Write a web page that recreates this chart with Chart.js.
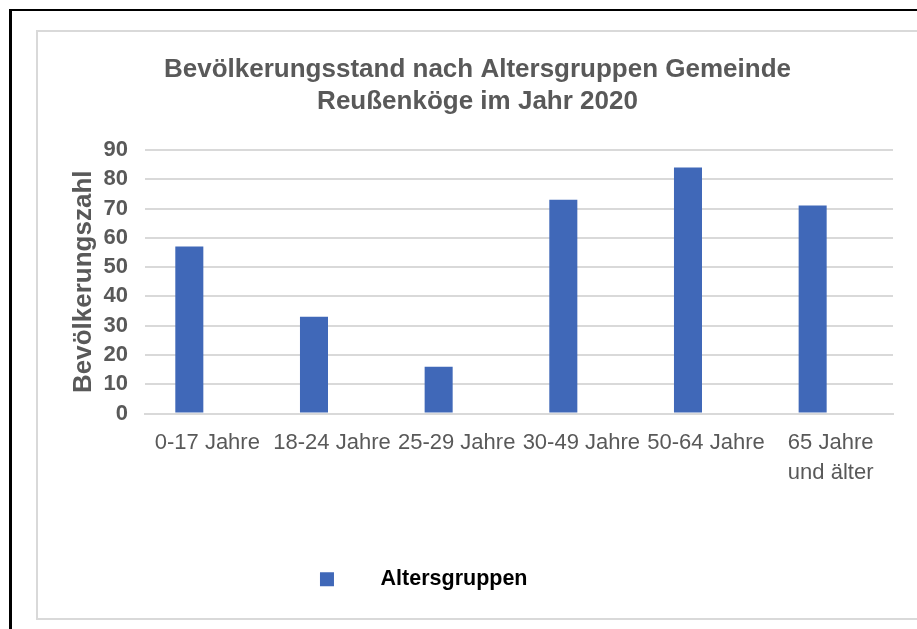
<!DOCTYPE html>
<html>
<head>
<meta charset="utf-8">
<script src="https://cdn.jsdelivr.net/npm/chart.js@4/dist/chart.umd.min.js"></script>
<style>
  html, body { margin: 0; padding: 0; background: #fff; width: 917px; height: 629px; overflow: hidden; }
  #outer { position: absolute; left: 9px; top: 9px; width: 920px; height: 630px; border-left: 3px solid #000; border-top: 2px solid #000; }
  #inner { position: absolute; left: 36px; top: 30px; width: 890px; height: 586px; border-left: 2px solid #d9d9d9; border-top: 2px solid #d9d9d9; border-bottom: 2px solid #d9d9d9; }
  #c { position: absolute; left: 38px; top: 32px; }
</style>
</head>
<body>
<div id="outer"></div>
<div id="inner"></div>
<canvas id="c" width="879" height="585"></canvas>
<script>
const categories = ["0-17 Jahre", "18-24 Jahre", "25-29 Jahre", "30-49 Jahre", "50-64 Jahre", ["65 Jahre", "und älter"]];
const seriesName = "Altersgruppen";
const populationValues = [57, 33, 16, 73, 84, 71];
const emptySeries = [null, null, null, null, null, null];
const titleLines = ["Bevölkerungsstand nach Altersgruppen Gemeinde", "Reußenköge im Jahr 2020"];
const yAxisTitle = "Bevölkerungszahl";

const FONT = "'Liberation Sans', Arial, sans-serif";
const GREY = "#595959";
const BAR = "#4068B8";

new Chart(document.getElementById('c'), {
  type: 'bar',
  data: {
    labels: categories,
    datasets: [
      { label: seriesName, data: populationValues, backgroundColor: BAR, borderWidth: 0,
        categoryPercentage: 0.578, barPercentage: 0.778 },
      { label: "", data: emptySeries, backgroundColor: "rgba(0,0,0,0)",
        categoryPercentage: 0.578, barPercentage: 0.778 }
    ]
  },
  options: {
    responsive: false,
    devicePixelRatio: 1,
    animation: false,
    layout: { padding: { left: 24, right: 24, top: 0, bottom: 17 } },
    plugins: {
      title: {
        display: true,
        text: titleLines,
        color: GREY,
        font: { family: FONT, size: 26, weight: 'bold', lineHeight: 1.23 },
        padding: { top: 22, bottom: 32 }
      },
      legend: {
        position: 'bottom',
        labels: {
          boxWidth: 14,
          boxHeight: 14,
          padding: 10,
          color: '#000',
          font: { family: FONT, size: 21.5, weight: 'bold' },
          generateLabels(chart) {
            const ds = chart.data.datasets[0];
            return [{
              text: "      " + ds.label + "                  ",
              fillStyle: ds.backgroundColor,
              strokeStyle: ds.backgroundColor,
              lineWidth: 0,
              hidden: false,
              datasetIndex: 0
            }];
          }
        }
      },
      tooltip: { enabled: false }
    },
    scales: {
      x: {
        grid: { display: false, drawTicks: false },
        border: { display: true, color: '#d9d9d9', width: 2 },
        ticks: {
          color: GREY,
          font: { family: FONT, size: 22, lineHeight: 1.38 },
          padding: 14,
          maxRotation: 0,
          minRotation: 0,
          autoSkip: false
        },
        afterFit(scale) { scale.height = 145; }
      },
      y: {
        min: 0,
        max: 90,
        ticks: {
          stepSize: 10,
          autoSkip: false,
          color: GREY,
          font: { family: FONT, size: 22, weight: 'bold' },
          padding: 17
        },
        grid: { color: '#d9d9d9', lineWidth: 2, drawTicks: false },
        border: { display: false },
        title: {
          display: true,
          text: yAxisTitle,
          color: GREY,
          font: { family: FONT, size: 26, weight: 'bold', lineHeight: 1.2 },
          padding: { top: 6, bottom: 0 }
        },
        afterFit(scale) { scale.width = 83; }
      }
    }
  }
});
</script>
</body>
</html>
